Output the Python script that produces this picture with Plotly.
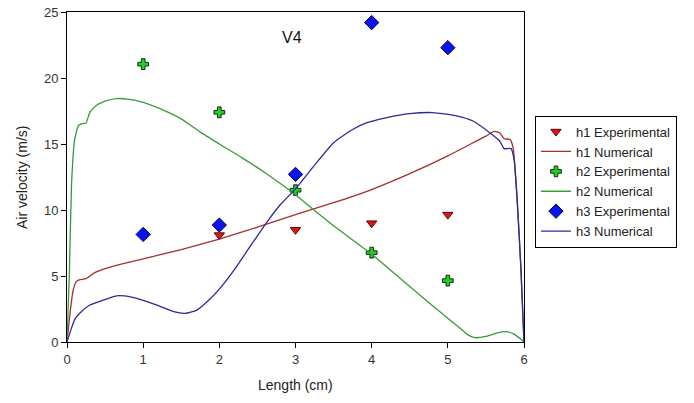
import plotly.graph_objects as go

# Experimental points
exp_x = [1, 2, 3, 4, 5]
h1_exp_x = [2, 3, 4, 5]
h1_exp_y = [8.1, 8.5, 9.0, 9.65]
h2_exp_y = [21.05, 17.4, 11.5, 6.77, 4.65]
h3_exp_y = [8.15, 8.86, 12.7, 24.2, 22.3]

# Numerical curves
h1_num_x = [0, 0.04, 0.08, 0.12, 0.16, 0.25, 0.35, 0.5, 0.75, 1.0, 1.5, 2.0, 2.5, 3.0, 3.5, 4.0,
            4.5, 5.0, 5.3, 5.5, 5.61, 5.68, 5.74, 5.82, 5.86, 5.91, 5.96, 6.0]
h1_num_y = [0, 2.2, 3.9, 4.55, 4.7, 4.8, 5.2, 5.55, 5.95, 6.3, 7.0, 7.8, 8.7, 9.65, 10.55, 11.55,
            12.75, 14.1, 15.0, 15.6, 15.95, 15.85, 15.4, 15.35, 14.6, 10.8, 5.5, 0]

h2_num_x = [0, 0.03, 0.06, 0.1, 0.15, 0.2, 0.25, 0.3, 0.38, 0.5, 0.65, 0.8, 1.0, 1.25, 1.5, 1.75,
            2.0, 2.3, 2.62, 3.0, 3.23, 3.5, 4.0, 4.5, 5.0, 5.15, 5.25, 5.35, 5.5, 5.65, 5.77, 5.87,
            5.95, 6.0]
h2_num_y = [0, 5.0, 12.0, 15.3, 16.4, 16.55, 16.6, 17.4, 17.9, 18.25, 18.44, 18.4, 18.15, 17.6,
            16.9, 15.9, 15.0, 13.95, 12.75, 11.15, 10.05, 8.8, 6.65, 4.2, 1.8, 1.1, 0.6, 0.33, 0.42,
            0.7, 0.79, 0.6, 0.25, 0]

h3_num_x = [0, 0.05, 0.1, 0.17, 0.3, 0.44, 0.65, 0.85, 1.0, 1.2, 1.4, 1.55, 1.7, 1.85, 2.0, 2.2,
            2.4, 2.62, 2.8, 3.0, 3.25, 3.5, 3.75, 3.93, 4.2, 4.5, 4.8, 5.1, 5.33, 5.55, 5.68, 5.74,
            5.83, 5.87, 5.91, 5.96, 6.0]
h3_num_y = [0, 0.9, 1.7, 2.2, 2.8, 3.1, 3.5, 3.4, 3.15, 2.75, 2.3, 2.17, 2.4, 3.1, 4.0, 5.5,
            7.2, 9.05, 10.4, 11.6, 13.4, 15.1, 16.1, 16.6, 17.0, 17.3, 17.38, 17.15, 16.74, 15.86,
            15.23, 14.65, 14.65, 13.8, 10.8, 5.5, 0]

x_ticks = [0, 1, 2, 3, 4, 5, 6]
y_ticks = [0, 5, 10, 15, 20, 25]

FONT = "Liberation Sans, Arial"

fig = go.Figure()
fig.add_trace(go.Scatter(x=h1_exp_x, y=h1_exp_y, mode="markers", name="h1 Experimental",
                         marker=dict(symbol="triangle-down", size=9, color="#e01515",
                                     line=dict(color="#600000", width=1))))
fig.add_trace(go.Scatter(x=h1_num_x, y=h1_num_y, mode="lines", name="h1 Numerical",
                         line=dict(color="#a3302c", width=1.3, shape="spline", smoothing=0.5)))
fig.add_trace(go.Scatter(x=exp_x, y=h2_exp_y, mode="markers", name="h2 Experimental",
                         marker=dict(symbol="cross", size=9, color="#22d022",
                                     line=dict(color="#103010", width=1))))
fig.add_trace(go.Scatter(x=h2_num_x, y=h2_num_y, mode="lines", name="h2 Numerical",
                         line=dict(color="#3a9a3a", width=1.3, shape="spline", smoothing=0.5)))
fig.add_trace(go.Scatter(x=exp_x, y=h3_exp_y, mode="markers", name="h3 Experimental",
                         marker=dict(symbol="diamond", size=11, color="#0a14f0",
                                     line=dict(color="#000050", width=1))))
fig.add_trace(go.Scatter(x=h3_num_x, y=h3_num_y, mode="lines", name="h3 Numerical",
                         line=dict(color="#2a2a9a", width=1.3, shape="spline", smoothing=0.5)))

axis_common = dict(showline=True, linecolor="#000000", linewidth=1, mirror=True,
                   ticks="outside", ticklen=5, tickcolor="#000000", showgrid=False,
                   zeroline=False, automargin=False,
                   tickfont=dict(family=FONT, size=13, color="#333333"))
fig.update_xaxes(range=[0, 6], tickvals=x_ticks, **axis_common)
fig.update_yaxes(range=[0, 25], tickvals=y_ticks, **axis_common)

fig.add_annotation(x=2.95, y=23.1, text="V4", showarrow=False,
                   font=dict(family=FONT, size=16, color="#111111"))
fig.add_annotation(xref="paper", yref="paper", x=0.5, y=-0.129, yanchor="middle",
                   text="Length (cm)", showarrow=False,
                   font=dict(family=FONT, size=14, color="#222222"))
fig.add_annotation(xref="paper", yref="paper", x=-0.0985, y=0.5, xanchor="center",
                   text="Air velocity (m/s)", showarrow=False, textangle=-90,
                   font=dict(family=FONT, size=14, color="#222222"))

fig.update_layout(
    width=694, height=403,
    margin=dict(l=67, r=170, t=12, b=60.5),
    plot_bgcolor="white", paper_bgcolor="white",
    legend=dict(x=1.024, y=0.686, xanchor="left", yanchor="top",
                bordercolor="#000000", borderwidth=1, bgcolor="white",
                font=dict(family=FONT, size=13, color="#222222"),
                tracegroupgap=0, itemwidth=30),
)

fig.write_html("out.html", config={"displayModeBar": False},
               post_script="document.body.style.margin='0px';document.body.style.padding='0px';")
